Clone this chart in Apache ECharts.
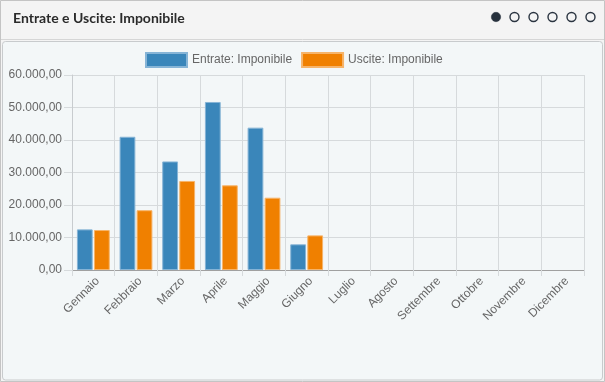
<!DOCTYPE html>
<html>
<head>
<meta charset="utf-8">
<script src="https://cdn.jsdelivr.net/npm/echarts@6/dist/echarts.min.js"></script>
<style>
html,body{margin:0;padding:0;background:#f4f4f4;}
#c{width:605px;height:382px;}
</style>
</head>
<body>
<div id="c"></div>
<script>
const titleText = 'Entrate e Uscite: Imponibile';
const categories = ['Gennaio','Febbraio','Marzo','Aprile','Maggio','Giugno','Luglio','Agosto','Settembre','Ottobre','Novembre','Dicembre'];
const seriesNames = ['Entrate: Imponibile','Uscite: Imponibile'];
const entrate = [12500, 41000, 33400, 51700, 43800, 7900, null, null, null, null, null, null];
const uscite  = [12300, 18400, 27400, 26050, 22250, 10650, null, null, null, null, null, null];
const yMin = 0, yMax = 60000, yStep = 10000;

function fmtIt(v){
  const neg = v < 0; v = Math.abs(v);
  let ip = Math.floor(v).toString();
  let dec = Math.round((v - Math.floor(v))*100).toString().padStart(2,'0');
  ip = ip.replace(/\B(?=(\d{3})+(?!\d))/g, '.');
  return (neg?'-':'') + ip + ',' + dec;
}

const font = 'Liberation Sans, Arial, sans-serif';
const chart = echarts.init(document.getElementById('c'), null, {renderer:'canvas'});

const dotXs = [496, 514.5, 533.5, 552.5, 571.5, 590.5];
const dots = dotXs.map((x,i)=>({
  type:'circle', shape:{cx:x, cy:17, r: i===0?4.7:4.5},
  style: i===0 ? {fill:'#27313d', stroke:'#27313d', lineWidth:0.5} : {fill:'none', stroke:'#2a3440', lineWidth:1.4},
  z:10
}));

chart.setOption({
  animation:false,
  backgroundColor:'#f4f4f4',
  graphic:[
    {type:'rect', shape:{x:0.5,y:0.5,width:604,height:381}, style:{fill:'#f4f4f4', stroke:'#c4c4c4', lineWidth:1}, z:-10},
    {type:'line', shape:{x1:1,y1:39.5,x2:604,y2:39.5}, style:{stroke:'#d6d6d6', lineWidth:1}, z:-9},
    {type:'rect', shape:{x:2.5,y:41.5,width:600,height:338.5, r:3}, style:{fill:'#f3f7f8', stroke:'#c8cbcd', lineWidth:1}, z:-8},
    ...dots
  ],
  title:{
    text:titleText, left:13, top:11, padding:0,
    textStyle:{fontFamily:'Lato, sans-serif', fontWeight:700, fontSize:14, color:'#2b2b2b'}
  },
  legend:{
    left:145, top:52, padding:0, itemWidth:41, itemHeight:14, itemGap:9, icon:'rect',
    textStyle:{fontFamily:font, fontSize:12, color:'#666'},
    data:seriesNames
  },
  grid:{left:72, right:21, top:75, bottom:112, containLabel:false},
  xAxis:{
    type:'category', data:categories,
    axisLine:{lineStyle:{color:'#a0a0a0', width:1}},
    axisTick:{show:true, length:6, lineStyle:{color:'#d6dadc'}},
    splitLine:{show:true, lineStyle:{color:'#d6dadc'}},
    axisLabel:{rotate:45, margin:5, verticalAlign:'top', fontFamily:font, fontSize:12, color:'#666', interval:0}
  },
  yAxis:{
    type:'value', min:yMin, max:yMax, interval:yStep,
    axisLine:{show:true, lineStyle:{color:'#c8cccf'}},
    axisTick:{show:true, length:8, lineStyle:{color:'#d6dadc'}},
    splitLine:{show:true, lineStyle:{color:'#d6dadc'}},
    axisLabel:{formatter:fmtIt, margin:10, fontFamily:font, fontSize:12, color:'#666'}
  },
  series:[
    {name:seriesNames[0], type:'bar', data:entrate, barWidth:'37%', barGap:'8%',
     itemStyle:{color:'#3a86ba', borderColor:'#86b4d6', borderWidth:1}},
    {name:seriesNames[1], type:'bar', data:uscite, barWidth:'37%', barGap:'8%',
     itemStyle:{color:'#f08000', borderColor:'#f6b46a', borderWidth:1}}
  ]
});
</script>
</body>
</html>
